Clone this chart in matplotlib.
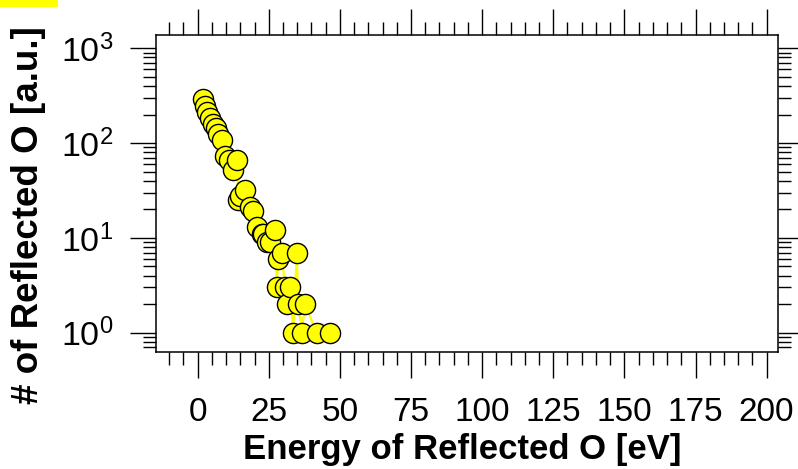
import matplotlib
matplotlib.use('Agg')
import matplotlib.pyplot as plt
from matplotlib.patches import Rectangle
from matplotlib.ticker import MultipleLocator, LogLocator, NullFormatter

plt.rcParams['font.family'] = ['Liberation Sans', 'DejaVu Sans']
plt.rcParams['mathtext.fontset'] = 'custom'
plt.rcParams['mathtext.rm'] = 'Liberation Sans'
plt.rcParams['mathtext.it'] = 'Liberation Sans'

# energy bins [eV] and counts of reflected O
energy = [1.7, 2.4, 3.4, 4.5, 5.4, 6.3, 7.3, 8.4, 9.6, 11.0,
          12.5, 13.9, 14.3, 14.9, 16.6, 18.4, 19.5, 20.7, 22.5, 23.1,
          24.3, 25.4, 27.2, 27.8, 28.3, 29.5, 30.7, 31.3, 32.4, 33.6,
          34.8, 35.4, 36.6, 37.7, 41.8, 46.5]
counts = [292, 246, 213, 182, 159, 143, 126, 108, 73, 66,
          52, 66, 25, 28, 32, 21, 19, 13, 11, 11,
          9, 9, 12, 3, 6, 7, 3, 2, 3, 1,
          7, 2, 1, 2, 1, 1]

x_ticks = [0, 25, 50, 75, 100, 125, 150, 175, 200]

fig = plt.figure(figsize=(7.98, 4.69), dpi=100)
W, H = 798, 469
ax = fig.add_axes([155.7 / W, 1 - 351.7 / H, (778 - 155.7) / W, (351.7 - 35) / H])

ax.plot(energy, counts, color='#ffff00', lw=1.6, zorder=2)
ax.plot(energy, counts, ls='none', marker='o', ms=14.5, mfc='#ffff00',
        mec='black', mew=1.0, zorder=3)

ax.set_yscale('log')
ax.set_xlim(-14.76, 204.0)
ax.set_ylim(10 ** -0.2, 10 ** 3.14)

ax.set_xticks(x_ticks)
ax.xaxis.set_minor_locator(MultipleLocator(5))
ax.yaxis.set_major_locator(LogLocator(base=10, numticks=10))
ax.yaxis.set_minor_locator(LogLocator(base=10, subs=range(2, 10), numticks=10))
ax.yaxis.set_minor_formatter(NullFormatter())

for s in ax.spines.values():
    s.set_linewidth(1.1)

ax.tick_params(which='both', direction='out', top=True, right=True,
               width=1.0, color='black')
ax.tick_params(which='major', length=18.7)
ax.tick_params(which='minor', length=9.4)
ax.tick_params(axis='x', which='major', labelsize=24, pad=14)
ax.tick_params(axis='y', which='major', labelsize=24.5, pad=12)

fig.text(462 / W, 1 - 449 / H, 'Energy of Reflected O [eV]', fontsize=25,
         fontweight='bold', ha='center', va='center')
fig.text(29 / W, 1 - 215 / H, '# of Reflected O [a.u.]', fontsize=26.5,
         fontweight='bold', ha='center', va='center', rotation=90)

fig.patches.append(Rectangle((0, 1 - 7 / H), 58 / W, 7 / H, transform=fig.transFigure,
                             facecolor='#ffff00', edgecolor='none'))

fig.savefig('out.png', dpi=100)
